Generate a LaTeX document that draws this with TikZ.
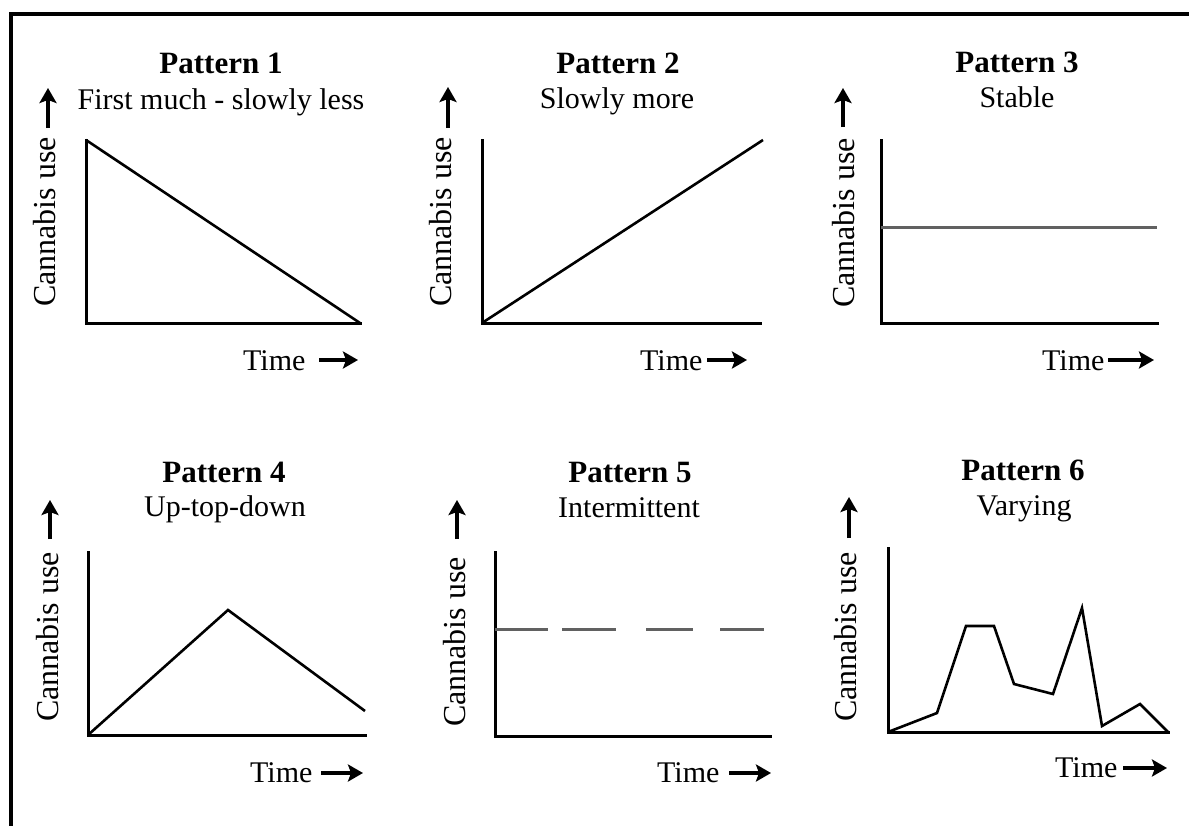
\documentclass[tikz,border=0pt]{standalone}
\usepackage{fontspec}
\setmainfont{Liberation Serif}
\usetikzlibrary{arrows.meta}
\begin{document}
\begin{tikzpicture}[x=1pt,y=-1pt,
  frame/.style={line width=4pt},
  axis/.style={line width=3pt, line cap=rect, line join=miter},
  curve/.style={line width=2.6pt, line join=miter},
  grayline/.style={line width=3pt, draw=black!62},
  title/.style={font=\fontsize{31}{36}\selectfont\bfseries, anchor=base, inner sep=0pt},
  sub/.style={font=\fontsize{30}{36}\selectfont, anchor=base, inner sep=0pt},
  ylab/.style={font=\fontsize{32}{36}\selectfont, rotate=90, inner sep=0pt},
  tlab/.style={font=\fontsize{30}{36}\selectfont, anchor=base west, inner sep=0pt},
  bigarrow/.style={line width=3.8pt, -{Stealth[length=15pt,width=17pt,inset=3pt]}}
]
\useasboundingbox (0,0) rectangle (1189,825);
% frame (only top and left edges visible)
\coordinate (fbl) at (11,828);
\coordinate (ftl) at (11,14);
\coordinate (ftr) at (1192,14);
\draw[frame] (fbl) -- (ftl) -- (ftr);

% ---------- Pattern 1 ----------
\node[title] (t1) at (221,73) {Pattern 1};
\node[sub] (s1) at (221,109) {First much - slowly less};
\coordinate (o1) at (86,323);
\coordinate (y1) at (86,140);
\coordinate (x1) at (360,323);
\draw[axis] (y1) -- (o1) -- (x1);
\draw[curve] (y1) -- (x1);
\node[ylab] (c1) at (45,222) {Cannabis use};
\coordinate (ua1s) at (48,128);
\coordinate (ua1e) at (48,88);
\draw[bigarrow] (ua1s) -- (ua1e);
\node[tlab] (tm1) at (243,370) {Time};
\coordinate (ra1s) at (319,360);
\coordinate (ra1e) at (358,360);
\draw[bigarrow] (ra1s) -- (ra1e);

% ---------- Pattern 2 ----------
\node[title] (t2) at (618,73) {Pattern 2};
\node[sub] (s2) at (617,108) {Slowly more};
\coordinate (o2) at (482,323);
\coordinate (y2) at (482,140);
\coordinate (x2) at (760,323);
\coordinate (e2) at (763,140);
\draw[axis] (y2) -- (o2) -- (x2);
\draw[curve] (o2) -- (e2);
\node[ylab] (c2) at (441,222) {Cannabis use};
\coordinate (ua2s) at (448,128);
\coordinate (ua2e) at (448,87);
\draw[bigarrow] (ua2s) -- (ua2e);
\node[tlab] (tm2) at (640,370) {Time};
\coordinate (ra2s) at (707,360);
\coordinate (ra2e) at (747,360);
\draw[bigarrow] (ra2s) -- (ra2e);

% ---------- Pattern 3 ----------
\node[title] (t3) at (1017,72) {Pattern 3};
\node[sub] (s3) at (1017,107) {Stable};
\coordinate (o3) at (881,323);
\coordinate (y3) at (881,140);
\coordinate (x3) at (1157,323);
\coordinate (h3a) at (881,227);
\coordinate (h3b) at (1157,227);
\draw[axis] (y3) -- (o3) -- (x3);
\draw[grayline] (h3a) -- (h3b);
\node[ylab] (c3) at (844,223) {Cannabis use};
\coordinate (ua3s) at (843,127);
\coordinate (ua3e) at (843,88);
\draw[bigarrow] (ua3s) -- (ua3e);
\node[tlab] (tm3) at (1042,370) {Time};
\coordinate (ra3s) at (1108,360);
\coordinate (ra3e) at (1154,360);
\draw[bigarrow] (ra3s) -- (ra3e);

% ---------- Pattern 4 ----------
\node[title] (t4) at (224,482) {Pattern 4};
\node[sub] (s4) at (225,516) {Up-top-down};
\coordinate (o4) at (88,735);
\coordinate (y4) at (88,552);
\coordinate (x4) at (365,735);
\coordinate (p4) at (228,610);
\coordinate (e4) at (365,711);
\draw[axis] (y4) -- (o4) -- (x4);
\draw[curve] (o4) -- (p4) -- (e4);
\node[ylab] (c4) at (48,637) {Cannabis use};
\coordinate (ua4s) at (50,539);
\coordinate (ua4e) at (50,500);
\draw[bigarrow] (ua4s) -- (ua4e);
\node[tlab] (tm4) at (250,782) {Time};
\coordinate (ra4s) at (321,773);
\coordinate (ra4e) at (363,773);
\draw[bigarrow] (ra4s) -- (ra4e);

% ---------- Pattern 5 ----------
\node[title] (t5) at (630,482) {Pattern 5};
\node[sub] (s5) at (629,517) {Intermittent};
\coordinate (o5) at (495,736);
\coordinate (y5) at (495,552);
\coordinate (x5) at (770,736);
\draw[axis] (y5) -- (o5) -- (x5);
\draw[grayline] (495,629) -- (548,629);
\draw[grayline] (562,629) -- (616,629);
\draw[grayline] (646,629) -- (693,629);
\draw[grayline] (720,629) -- (764,629);
\node[ylab] (c5) at (455,642) {Cannabis use};
\coordinate (ua5s) at (457,539);
\coordinate (ua5e) at (457,500);
\draw[bigarrow] (ua5s) -- (ua5e);
\node[tlab] (tm5) at (657,782) {Time};
\coordinate (ra5s) at (729,773);
\coordinate (ra5e) at (771,773);
\draw[bigarrow] (ra5s) -- (ra5e);

% ---------- Pattern 6 ----------
\node[title] (t6) at (1023,480) {Pattern 6};
\node[sub] (s6) at (1024,515) {Varying};
\coordinate (o6) at (888,732);
\coordinate (y6) at (888,548);
\coordinate (x6) at (1168,732);
\draw[axis] (y6) -- (o6) -- (x6);
\draw[curve] (o6) -- (937,713) -- (966,626) -- (994,626) -- (1014,684)
  -- (1053,694) -- (1082,608) -- (1102,726) -- (1140,704) -- (x6);
\node[ylab] (c6) at (846,637) {Cannabis use};
\coordinate (ua6s) at (849,538);
\coordinate (ua6e) at (849,497);
\draw[bigarrow] (ua6s) -- (ua6e);
\node[tlab] (tm6) at (1055,777) {Time};
\coordinate (ra6s) at (1123,768);
\coordinate (ra6e) at (1167,768);
\draw[bigarrow] (ra6s) -- (ra6e);
\end{tikzpicture}
\end{document}
